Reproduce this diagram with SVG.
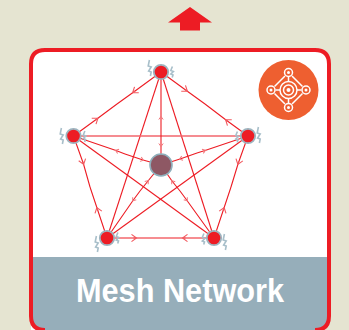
<svg xmlns="http://www.w3.org/2000/svg" width="349" height="330" viewBox="0 0 349 330">
<defs>
<marker id="chev" viewBox="-6 -5 8 10" markerWidth="8" markerHeight="10" markerUnits="userSpaceOnUse" refX="0" refY="0" orient="auto" overflow="visible">
<path d="M-4.500 -3.600 L0.500 0 L-4.500 3.600 M-2.500 0 L0.500 0" fill="none" stroke="#f2595f" stroke-width="1.1"/>
</marker>
<marker id="chevS" viewBox="-6 -5 8 10" markerWidth="8" markerHeight="10" markerUnits="userSpaceOnUse" refX="0" refY="0" orient="auto" overflow="visible">
<path d="M-2.500 -2.200 L0.500 0 L-2.500 2.200" fill="none" stroke="#f2777c" stroke-width="1"/>
</marker>
<path id="bolt" d="M-0.600 -8 L-1.800 -2 L1.200 -1 L-1.400 3 L1.200 4 L0.400 8" fill="none" stroke="#a8bfca" stroke-width="1.600"/>
<path id="boltS" d="M0.400 -5.500 L-1.200 -1.500 L1.400 -0.500 L-1.200 2 L1 3 L0.200 5.500" fill="none" stroke="#a8bfca" stroke-width="1.600"/>
</defs>
<style>
.e{fill:none;stroke:#ed1c24;stroke-width:1.1}
.c{fill:none;stroke:#ed1c24;stroke-width:1.1;marker-mid:url(#chev)}
.s{fill:none;stroke:#ed1c24;stroke-width:1.1;marker-mid:url(#chevS)}
.n{fill:#ed1c24;stroke:#9db4bf;stroke-width:1.800}
.i{fill:none;stroke:#fff;stroke-width:1.500}
</style>
<rect width="349" height="330" fill="#e5e4d1"/>
<path id="up-arrow" d="M190 7 L212 22.500 H200 V30.500 H180 V22.500 H168 Z" fill="#ed1c24"/>
<g id="card">
<path d="M31 330 V64 Q31 50 45 50 H315 Q329 50 329 64 V316 Q329 330 315 330 Z" fill="#fff"/>
<path d="M31 257 H329 V316 Q329 330 315 330 H45 Q31 330 31 316 Z" fill="#96aeba"/>
<path d="M45 330 Q31 330 31 316 V64 Q31 50 45 50 H315 Q329 50 329 64 V316 Q329 330 315 330" fill="none" stroke="#ed1c24" stroke-width="4"/>
<text x="180" y="302" text-anchor="middle" font-family="'Liberation Sans',Arial,sans-serif" font-size="33" font-weight="700" fill="#fff" textLength="208" lengthAdjust="spacingAndGlyphs">Mesh Network</text>
</g>
<g id="icon">
<circle cx="288.500" cy="90" r="30" fill="#ee5f30"/>
<path class="i" d="M285 76 L274.500 86.500 M292 76 L302.500 86.500 M274.500 93.500 L285 104 M302.500 93.500 L292 104 M288.500 77 V81 M288.500 99 V103 M275.500 90 H280 M297 90 H301.500"/>
<circle class="i" cx="288.500" cy="90" r="8.500"/>
<circle class="i" cx="288.500" cy="90" r="5"/>
<circle cx="288.500" cy="90" r="2" fill="#fff"/>
<g fill="#fff">
<circle cx="288.500" cy="72.500" r="1.500"/><circle cx="288.500" cy="107.500" r="1.500"/><circle cx="271" cy="90" r="1.500"/><circle cx="306" cy="90" r="1.500"/>
</g>
<circle class="i" cx="288.500" cy="72.500" r="4"/>
<circle class="i" cx="288.500" cy="107.500" r="4"/>
<circle class="i" cx="271" cy="90" r="4"/>
<circle class="i" cx="306" cy="90" r="4"/>
</g>
<g id="connectors">
<line class="e" x1="161" y1="72" x2="107" y2="238"/>
<line class="e" x1="161" y1="72" x2="214" y2="238"/>
<line x1="73.500" y1="136" x2="248" y2="136" stroke="#f2666c" stroke-width="1.500"/>
<line class="e" x1="73.500" y1="136" x2="214" y2="238"/>
<line class="e" x1="248" y1="136" x2="107" y2="238"/>
<polyline class="c" points="73.500,136 97.500,118.500 117,104"/>
<polyline class="c" points="161,72 133,92.500 117,104"/>
<polyline class="c" points="161,72 187,91 205,104"/>
<polyline class="c" points="248,136 226,120 205,104"/>
<polyline class="c" points="73.500,136 83.500,164 90,187"/>
<polyline class="c" points="107,238 97,208 90,187"/>
<polyline class="c" points="248,136 238,164 231,187"/>
<polyline class="c" points="214,238 224,208 231,187"/>
<polyline class="c" points="107,238 136,238 160,238"/>
<polyline class="c" points="214,238 183,238 160,238"/>
<polyline class="s" points="161,125 161,117 161,72"/>
<polyline class="s" points="161,125 161,146 161,165"/>
<polyline class="s" points="125,154 116,150.500 73.500,136"/>
<polyline class="s" points="125,154 143,160 161,165"/>
<polyline class="s" points="197,153 205,150.500 248,136"/>
<polyline class="s" points="197,153 180,159 161,165"/>
<polyline class="s" points="140,191 148,181 161,165"/>
<polyline class="s" points="140,191 133,200.500 107,238"/>
<polyline class="s" points="180,191 172,181 161,165"/>
<polyline class="s" points="180,191 187,200.500 214,238"/>
</g>
<g id="node-top"><use href="#bolt" x="150" y="68"/><use href="#boltS" x="172" y="72"/><circle class="n" cx="161" cy="72" r="7.200"/></g>
<g id="node-left"><use href="#bolt" x="62" y="136"/><use href="#boltS" x="84.500" y="136.500"/><circle class="n" cx="73.500" cy="136" r="7.200"/></g>
<g id="node-right"><use href="#boltS" x="237" y="137"/><use href="#bolt" x="259" y="135"/><circle class="n" cx="248" cy="136" r="7.200"/></g>
<g id="node-bottom-left"><use href="#bolt" x="97" y="244"/><use href="#boltS" x="117.500" y="238"/><circle class="n" cx="107" cy="238" r="7.200"/></g>
<g id="node-bottom-right"><use href="#boltS" x="203.500" y="239"/><use href="#bolt" x="225" y="242"/><circle class="n" cx="214" cy="238" r="7.200"/></g>
<g id="node-center"><circle cx="161" cy="165" r="11" fill="#8e5864" stroke="#8fb0bc" stroke-width="1.600"/></g>
</svg>
